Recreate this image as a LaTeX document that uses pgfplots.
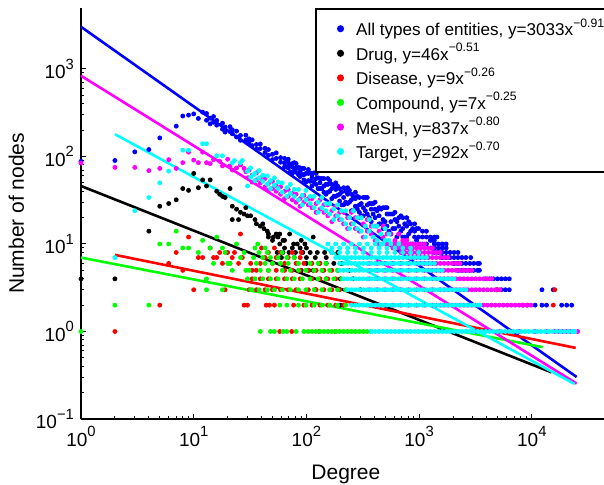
\documentclass[border=0pt]{standalone}
\usepackage{fontspec}
\setmainfont{Liberation Sans}
\usepackage{pgfplots}
\pgfplotsset{compat=1.18}
\usetikzlibrary{calc}
\definecolor{mblue}{rgb}{0,0,1}
\definecolor{mred}{rgb}{1,0,0}
\definecolor{mgreen}{rgb}{0,1,0}
\definecolor{mmag}{rgb}{1,0,1}
\definecolor{mcyan}{rgb}{0,1,1}
\newcommand{\tsup}[1]{\raisebox{0.52em}{\fontsize{7.4}{8}\selectfont #1}}
\newcommand{\lsup}[1]{\raisebox{0.5em}{\fontsize{6.1}{7}\selectfont #1}}
\newcommand{\lgap}{\hspace*{4.5pt}}
\pgfplotsset{dots/.style={only marks, mark=*, mark size=1pt, color=#1, mark options={fill=#1, draw=none}}}
\begin{document}
\begin{tikzpicture}
\begin{axis}[
  name=ax,
  xmode=log, ymode=log,
  xmin=1, xmax=50119, ymin=0.1, ymax=5000,
  scale only axis, width=264.85pt, height=205.6pt,
  axis lines*=left,
  axis line style={line width=0.6pt},
  tick align=inside,
  tick style={black, line width=0.5pt},
  major tick length=2.6pt, minor tick length=1.4pt,
  xtick={1,10,100,1000,10000},
  xticklabels={10\tsup{0},10\tsup{1},10\tsup{2},10\tsup{3},10\tsup{4}},
  ytick={0.1,1,10,100,1000},
  yticklabels={10\tsup{−1},10\tsup{0},10\tsup{1},10\tsup{2},10\tsup{3}},
  tick label style={font=\fontsize{9.5}{11}\selectfont},
  label style={font=\fontsize{10.5}{12}\selectfont},
  xlabel={Degree}, ylabel={Number of nodes},
  xlabel style={yshift=-2.5pt},
  ylabel style={yshift=-1pt},
  legend style={at={(0.4418,1)}, anchor=north west, draw=black, line width=0.9pt,
    fill=white, font=\fontsize{8.55}{10}\selectfont,
    inner xsep=11pt, inner ysep=3pt, row sep=-1.75pt},
  legend cell align=left,
  legend image post style={mark size=1.3pt},
]
% All types of entities
\addplot[dots=mblue] coordinates {
(1,88)(2,90)(3,113)(4,120)(5,163)(7,222)(8,290)(9,297)(10,307)(11,272)(12,321)
(13,310)(13,259)(14,274)(14,236)(15,286)(15,246)(16,228)(16,258)(18,240)(18,205)(19,217)(19,190)
(21,219)(21,193)(22,182)(22,202)(24,195)(24,167)(26,174)(26,153)(29,175)(29,154)(31,143)(31,159)
(33,155)(33,133)(36,137)(36,121)(39,139)(39,123)(43,111)(43,124)(46,120)(46,103)(50,106)(50,92)
(54,110)(54,95)(59,86)(59,97)
(64,95)(64,84)(64,76)(69,85)(69,74)(69,93)(75,64)(75,76)(75,83)(81,83)(81,66)(81,74)
(88,59)(88,74)(88,67)(95,73)(95,62)(95,54)(104,64)(104,53)(104,71)(112,46)(112,57)(112,63)
(122,64)(122,48)(122,56)(132,43)(132,56)(132,50)(143,56)(143,46)(143,39)(155,48)(155,39)(155,56)
(168,33)(168,43)(168,48)(182,50)(182,35)(182,42)(197,31)(197,43)(197,37)(214,44)(214,34)(214,28)
(232,37)(232,29)(232,44)(251,24)(251,32)(251,37)(272,39)(272,27)(272,33)(295,23)(295,34)(295,28)
(320,34)(320,26)(320,21)(347,28)(347,22)(347,34)(376,18)(376,25)(376,29)(407,30)(407,20)(407,25)
(442,17)(442,26)(442,21)(479,26)(479,19)(479,15)(519,22)(519,16)(519,26)(562,13)(562,18)(562,22)
(610,23)(610,15)(610,19)(661,13)(661,20)(661,16)(716,20)(716,15)(716,12)(776,16)(776,12)(776,20)
(841,10)(841,14)(841,17)(912,17)(912,12)(912,14)(989,10)(989,15)(989,12)(1072,14)(1072,12)(1072,10)
(1161,12)(1161,10)(1161,14)(1259,9)(1259,11)(1259,12)
(67,89)(67,76)(72,80)(72,67)(78,85)(78,69)(85,62)(85,75)(92,73)(92,62)(99,51)(99,64)(108,65)(108,52)
(117,51)(117,65)(127,57)(127,43)(137,43)(137,56)(149,48)(149,37)(161,53)(161,40)(175,35)(175,46)
(189,46)(189,36)(205,28)(205,39)(223,40)(223,30)(241,30)(241,41)(261,35)(261,24)(283,25)(283,35)
(307,29)(307,21)(333,34)(333,24)(361,20)(361,29)(391,29)(391,22)(424,16)(424,24)(460,25)(460,17)
(499,18)(499,26)(540,22)(540,14)(585,15)(585,22)(635,18)(635,12)(688,21)(688,14)(745,12)(745,17)
(808,18)(808,13)(876,10)(876,15)(949,15)(949,11)
(1365,12)(1440,12)(1311,11)(1365,11)
(1365,10)(1479,10)(1603,10)(1738,10)(1365,9)(1479,9)(1603,9)(1738,9)
(1365,8)(1479,8)(1603,8)(1738,8)(1884,8)(2042,8)(2213,8)
(1603,7)(1738,7)(1884,7)(2042,7)(2213,7)(2399,7)(2600,7)(2870,7)
(2042,6)(2213,6)(2399,6)(2600,6)(2818,6)(3055,6)(3311,6)(3430,6)
(2213,5)(2399,5)(2600,5)(2818,5)(3055,5)(3311,5)(3430,5)
(3890,4)(4217,4)(4571,4)(4955,4)(5370,4)(5821,4)(6310,4)
(4955,3)(5370,3)(5821,3)(6310,3)(12300,3)(15500,3)
(10700,2)(12300,2)(13500,2)(18400,2)(20400,2)(22600,2)
};
\addlegendentry{\lgap All types of entities, y=3033x\lsup{−0.91}}
% Drug
\addplot[dots=black] coordinates {
(1,4)(2,4)(4,14)(5,27)(6,29)(7,32)(8,43)(9,41)(10,64)(11,44)(12,54)(13,46)(14,54)(16,40)(17,37)
(18,35)(19,34)(21,43)(22,27)(22,19)(24,25)(25,19)(26,23)(28,22)(29,26)(30,21)(32,21)(35,19)(36,17)
(39,16)(41,17)(42,15)(45,14)(46,12)(46,13)(50,11)(51,12)(54,13)(56,12)(58,10)(58,13)(62,11)(64,11)
(71,13)(77,10)(83,10)(90,11)(97,10)(115,12)
(64,9)(75,9)(88,9)(100,9)
(55,8)(62,8)(70,8)(80,8)(93,8)(108,8)(125,8)(145,8)(168,8)(190,8)
(60,7)(78,7)(100,7)(120,7)(150,7)
(100,6)(130,6)(150,6)(175,6)(200,6)(210,6)
(90,5)(105,5)(115,5)(140,5)(190,5)(240,5)
(150,4)(200,4)(260,4)(120,3)(300,3)(200,2)(400,2)
};
\addlegendentry{\lgap Drug, y=46x\lsup{−0.51}}
% Disease
\addplot[dots=mred] coordinates {
(2,1)(5,2)(6,6)(7,8)(8,5)(9,12)(10,3)(11,7)(12,7)(14,9)(15,7)(16,7)(17,8)(18,6)(19,3)(20,8)
(21,6)(22,7)(23,8)(25,6)(26,13)(27,7)(28,2)(30,2)(32,6)(33,5)
(58,1)(74,1)(130,1)(180,1)
(44,2)(47,2)(52,2)(77,2)(95,2)(112,2)(132,2)(155,2)(182,2)(214,2)(8300,2)(9100,2)(15500,2)
(31,3)(36,3)(43,3)(50,3)(59,3)(69,3)(81,3)(104,3)(122,3)(143,3)(168,3)(197,3)(4900,3)(16000,3)
(33,4)(39,4)(46,4)(54,4)(64,4)(75,4)(88,4)(112,4)(132,4)(155,4)(182,4)
(36,5)(46,5)(54,5)(64,5)(75,5)(88,5)(104,5)(122,5)(143,5)(168,5)
(39,6)(50,6)(64,6)(81,6)(95,6)(112,6)(132,6)
(43,7)(54,7)(69,7)(88,7)(46,8)(59,8)(75,8)(90,8)(40,9)(52,9)
};
\addlegendentry{\lgap Disease, y=9x\lsup{−0.26}}
% Compound
\addplot[dots=mgreen] coordinates {
(1,1)(2,2)(4,2)(5,10)(6,10)(7,14)(8,9)(9,9)(11,8)(12,11)(13,4)(14,9)(15,6)(16,12)(18,9)(19,8)
(20,6)(21,6)(22,5)(24,10)(26,7)(28,8)(29,5)(31,5)(13,3)(18,3)(33,3)
(39,1)(48,1)(52,1)(62,1)(67,1)(81,1)(95,1)(104,1)(112,1)(122,1)(132,1)(143,1)(155,1)(168,1)
(182,1)(197,1)(214,1)(232,1)(251,1)(272,1)(295,1)(320,1)(347,1)(376,1)
(58,2)(67,2)(85,2)(99,2)(117,2)(137,2)(161,2)(189,2)(223,2)
(32,3)(38,3)(45,3)(52,3)(61,3)(72,3)(85,3)(99,3)(117,3)(137,3)(161,3)(189,3)(223,3)
(30,4)(35,4)(41,4)(48,4)(56,4)(67,4)(78,4)(92,4)(108,4)(127,4)(149,4)(175,4)(205,4)
(39,5)(46,5)(61,5)(72,5)(85,5)(99,5)(117,5)(137,5)(161,5)(189,5)
(36,6)(43,6)(50,6)(59,6)(69,6)(85,6)(108,6)(127,6)(149,6)
(34,7)(41,7)(48,7)(56,7)(67,7)(78,7)(38,8)(45,8)(61,8)(35,9)(43,9)(37,10)
};
\addlegendentry{\lgap Compound, y=7x\lsup{−0.25}}
% MeSH
\addplot[dots=mmag] coordinates {
(1,84)(2,75)(3,75)(4,69)(5,73)(6,92)(7,73)(8,85)(9,112)(10,91)(11,85)(12,112)(13,85)(14,83)
(15,92)(17,88)(18,78)(20,93)(21,78)(22,70)(24,74)(26,80)(28,73)(29,67)(30,57)
(31,70)(31,57)(33,61)(33,51)(36,65)(36,54)(39,50)(39,57)(43,56)(43,45)(46,49)(46,41)(50,52)(50,43)
(54,40)(54,46)(59,45)(59,37)(64,40)(64,33)(69,42)(69,35)(75,32)(75,38)(81,37)(81,30)(88,33)(88,27)
(95,36)(95,30)(104,28)(104,33)(112,33)(112,26)(122,29)(122,23)(132,32)(132,25)(143,23)(143,28)
(155,28)(155,21)(168,24)(168,18)(182,27)(182,21)(197,19)(197,23)(214,23)(214,17)(232,20)(232,15)
(251,23)(251,17)(272,15)(272,20)(295,20)(295,14)(320,17)(320,12)(347,19)(347,14)(376,13)(376,16)
(407,16)(407,11)(442,14)(442,10)(479,16)(479,12)(519,10)(519,13)(562,13)(562,10)(610,11)(610,9)
(661,13)(661,10)(716,9)(716,11)(776,11)(776,9)
(499,10)(540,10)(585,10)(635,10)(688,10)(745,10)(808,10)(876,10)(949,10)(1029,10)(1116,10)
(585,9)(635,9)(688,9)(745,9)(808,9)(876,9)(949,9)(1029,9)(1116,9)(1209,9)(1311,9)
(688,8)(745,8)(808,8)(876,8)(949,8)(1029,8)(1116,8)(1209,8)(1311,8)(1421,8)(1540,8)
(808,7)(876,7)(949,7)(1029,7)(1116,7)(1209,7)(1311,7)(1421,7)(1540,7)(1669,7)(1809,7)
(361,6)(424,6)(499,6)(585,6)(688,6)(808,6)
(949,6)(1029,6)(1116,6)(1209,6)(1311,6)(1421,6)(1540,6)(1669,6)(1809,6)(1961,6)(2126,6)(2304,6)
(361,5)(424,5)(499,5)(585,5)(688,5)(808,5)(949,5)
(1116,5)(1209,5)(1311,5)(1421,5)(1540,5)(1669,5)(1809,5)(1961,5)(2126,5)(2304,5)(2497,5)(2707,5)(2934,5)
(361,4)(424,4)(499,4)(585,4)(688,4)(808,4)(949,4)(1116,4)
(1311,4)(1421,4)(1540,4)(1669,4)(1809,4)(1961,4)(2126,4)(2304,4)(2497,4)(2707,4)(2934,4)(3180,4)
(3447,4)(3736,4)(4050,4)(4390,4)
(361,3)(424,3)(499,3)(585,3)(688,3)(808,3)(949,3)(1116,3)(1311,3)
(1540,3)(1669,3)(1809,3)(1961,3)(2126,3)(2304,3)(2497,3)(2707,3)(2934,3)(3180,3)(3447,3)(3736,3)
(4050,3)(4390,3)(4758,3)(5200,3)
(391,2)(424,2)(499,2)(585,2)(688,2)(808,2)(949,2)(1116,2)
(1311,2)(1421,2)(1540,2)(1669,2)(1809,2)(1961,2)(2126,2)(2304,2)(2497,2)(2707,2)(2934,2)(3180,2)
(3447,2)(3736,2)(4050,2)(4390,2)(4758,2)(5158,2)(5590,2)(6060,2)(6568,2)(7120,2)(7717,2)(8365,2)
(9067,2)(9828,2)
(3180,1)(5158,1)(7717,1)(10653,1)(13566,1)(15939,1)(17276,1)(18726,1)(20298,1)(22001,1)(23848,1)(25500,1)
};
\addlegendentry{\lgap MeSH, y=837x\lsup{−0.80}}
% Target
\addplot[dots=mcyan] coordinates {
(2,7)(3,24)(4,34)(5,50)(6,68)(8,118)(9,118)(12,140)(13,140)(16,102)(18,102)(22,85)(23,90)(26,85)
(27,90)(30,68)(30,46)(34,62)
(32,74)(32,58)(35,64)(35,53)(38,69)(38,57)(41,52)(41,61)(45,60)(45,48)(48,53)(48,43)(52,57)(52,47)
(56,43)(56,51)(61,50)(61,39)(67,44)(67,35)(72,48)(72,38)(78,35)(78,42)(85,42)(85,32)(92,36)(92,28)
(99,41)(99,32)(108,29)(108,35)(117,35)(117,26)(127,30)(127,23)(137,34)(137,26)(149,24)(149,29)
(161,29)(161,22)(175,25)(175,19)(189,28)(189,21)(205,19)(205,24)(223,24)(223,17)(241,20)(241,15)
(261,24)(261,17)(283,15)(283,20)(307,20)(307,14)(333,16)(333,12)(361,19)(361,14)(391,12)(391,16)
(424,16)(424,11)(460,13)(460,10)(499,15)(499,11)(540,11)(540,13)
(376,1)(407,1)(442,1)(479,1)(519,1)(562,1)(610,1)(661,1)(716,1)(776,1)(841,1)(912,1)(989,1)
(1072,1)(1161,1)(1259,1)(1365,1)(1479,1)(1603,1)(1738,1)(1884,1)(2042,1)(2213,1)(2399,1)(2600,1)
(2818,1)(3055,1)(3311,1)(3589,1)(3890,1)(4217,1)(4571,1)(4955,1)(5370,1)(5821,1)(6310,1)(6839,1)
(7413,1)(8035,1)(8710,1)(9441,1)(10233,1)(11092,1)(12023,1)(13032,1)(14125,1)(15311,1)(16596,1)
(17989,1)(19498,1)(21135,1)(22909,1)(24000,1)
(251,2)(272,2)(295,2)(320,2)(347,2)(376,2)(407,2)(442,2)(479,2)(519,2)(562,2)(610,2)(661,2)
(716,2)(776,2)(841,2)(912,2)(989,2)(1072,2)(1161,2)(1259,2)(1365,2)(1479,2)(1603,2)(1738,2)
(1884,2)(2042,2)(2213,2)(2399,2)(2600,2)(2818,2)(3055,2)(3311,2)(3460,2)
(232,3)(251,3)(272,3)(295,3)(320,3)(347,3)(376,3)(407,3)(442,3)(479,3)(519,3)(562,3)(610,3)
(661,3)(716,3)(776,3)(841,3)(912,3)(989,3)(1072,3)(1161,3)(1259,3)(1365,3)(1479,3)(1603,3)
(1738,3)(1884,3)(2042,3)(2213,3)(2399,3)(2600,3)
(214,4)(232,4)(251,4)(272,4)(295,4)(320,4)(347,4)(376,4)(407,4)(442,4)(479,4)(519,4)(562,4)
(610,4)(661,4)(716,4)(776,4)(841,4)(912,4)(989,4)(1072,4)(1161,4)(1259,4)(1365,4)(1479,4)
(1603,4)(1738,4)(1884,4)(2042,4)
(197,5)(214,5)(232,5)(251,5)(272,5)(295,5)(320,5)(347,5)(376,5)(407,5)(442,5)(479,5)(519,5)
(562,5)(610,5)(661,5)(716,5)(776,5)(841,5)(912,5)(989,5)(1072,5)(1161,5)(1259,5)(1365,5)
(1479,5)(1603,5)
(197,6)(214,6)(232,6)(251,6)(272,6)(295,6)(320,6)(347,6)(376,6)(407,6)(442,6)(479,6)(519,6)
(562,6)(610,6)(661,6)(716,6)(776,6)(841,6)(912,6)(989,6)(1072,6)(1161,6)(1259,6)(1365,6)
(182,7)(197,7)(214,7)(232,7)(251,7)(272,7)(295,7)(320,7)(347,7)(376,7)(407,7)(442,7)(479,7)
(519,7)(562,7)(610,7)(661,7)(716,7)(776,7)(841,7)(912,7)(989,7)(1072,7)(1161,7)
(168,8)(197,8)(232,8)(272,8)(320,8)(376,8)(442,8)(519,8)(610,8)(716,8)(841,8)(989,8)
(168,9)(197,9)(232,9)(272,9)(320,9)(376,9)(442,9)(519,9)(610,9)(716,9)(841,9)
(155,10)(182,10)(214,10)(251,10)(295,10)(347,10)(407,10)(479,10)(562,10)(661,10)
};
\addlegendentry{\lgap Target, y=292x\lsup{−0.70}}
% power-law fits
\addplot[mblue, no markers, line width=1.3pt, forget plot] coordinates {(1,3033)(25000,0.302)};
\addplot[black, no markers, line width=1.3pt, forget plot] coordinates {(1,46)(15000,0.341)};
\addplot[mred, no markers, line width=1.3pt, forget plot] coordinates {(2,7.51)(24500,0.65)};
\addplot[mgreen, no markers, line width=1.3pt, forget plot] coordinates {(1,7)(12500,0.662)};
\addplot[mmag, no markers, line width=1.3pt, forget plot] coordinates {(1,837)(25000,0.254)};
\addplot[mcyan, no markers, line width=1.3pt, forget plot] coordinates {(2,179.9)(24000,0.251)};
\end{axis}
\pgfresetboundingbox
\path[use as bounding box] ($(ax.south west)+(-40.5pt,-32.5pt)$) rectangle ($(ax.south west)+(261.5pt,209.5pt)$);
\end{tikzpicture}
\end{document}
